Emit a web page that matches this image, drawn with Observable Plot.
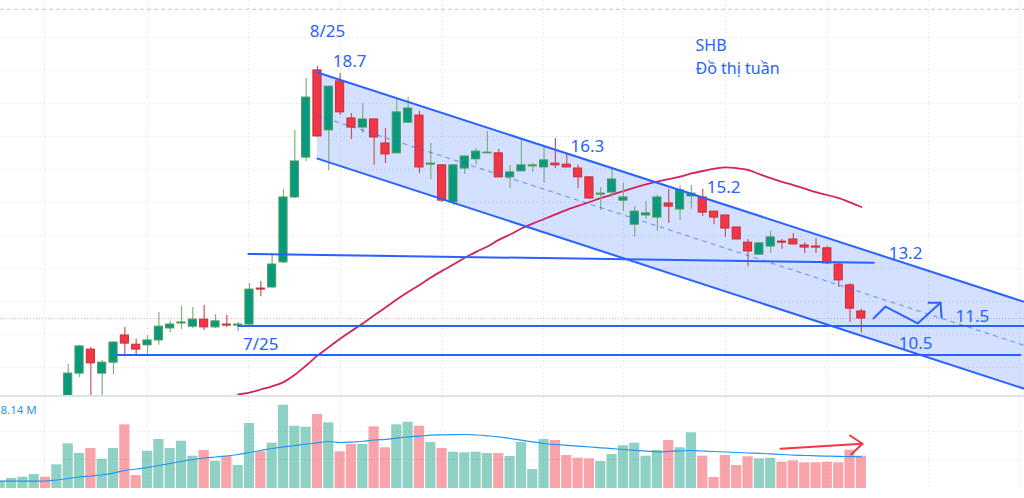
<!DOCTYPE html>
<html><head><meta charset="utf-8">
<script src="https://cdn.jsdelivr.net/npm/d3@7"></script>
<script src="https://cdn.jsdelivr.net/npm/@observablehq/plot@0.6"></script>
<style>
html,body{margin:0;padding:0;background:#fff;}
#chart{width:1024px;height:498px;overflow:hidden;position:relative;}
#sep{height:2px;background:#e0e3eb;}
svg{display:block;}
</style></head><body><div id="chart"></div>
<script>
// ---- weekly candles (index 0..70) ----
const opens = [9.15,10.05,10.73,10.05,10.36,11.13,10.87,10.85,10.99,11.33,11.47,11.38,11.58,11.36,11.44,11.41,11.44,12.46,12.49,13.20,15.04,16.17,18.64,16.94,18.33,17.28,17.02,17.25,16.57,16.29,17.16,17.36,15.97,15.95,14.90,15.86,16.12,16.29,16.29,15.61,15.78,15.92,15.89,16.00,15.97,15.86,15.61,15.12,15.18,14.95,14.27,14.53,14.47,14.87,14.70,15.07,15.04,14.64,14.53,14.19,13.76,13.42,13.65,13.79,13.85,13.68,13.65,13.60,13.14,12.55,11.81];
const closes = [10.05,10.82,10.34,10.36,10.93,10.90,10.73,10.99,11.38,11.44,11.50,11.58,11.36,11.53,11.41,11.44,12.43,12.43,13.14,15.04,16.06,17.87,16.77,18.18,17.45,17.02,17.25,16.74,16.26,17.45,17.56,15.89,16.00,14.95,15.95,16.20,16.34,16.31,15.61,15.75,15.95,15.95,16.09,15.95,15.89,15.61,15.01,15.15,15.55,15.04,14.64,14.59,15.04,14.78,15.24,15.15,14.61,14.47,14.16,13.85,13.51,13.74,13.91,13.76,13.71,13.62,13.62,13.17,12.69,11.89,11.61];
const highs = [10.31,10.85,10.79,10.42,10.96,11.36,11.02,11.13,11.78,11.53,11.95,11.92,11.98,11.72,11.70,11.50,12.60,12.66,13.40,15.27,16.94,18.41,18.75,18.20,18.55,17.42,17.70,17.27,16.99,17.87,17.87,17.48,16.57,15.97,15.97,16.22,16.43,16.91,16.40,15.95,16.68,16.00,16.51,16.71,16.26,15.95,15.63,15.32,15.86,15.44,14.78,14.93,15.10,15.27,15.38,15.38,15.27,14.64,14.53,14.19,13.85,13.74,14.08,13.85,14.02,13.76,13.88,13.65,13.17,12.60,11.87];
const lows = [8.95,9.94,9.34,9.34,10.02,10.53,10.59,10.59,10.85,11.21,11.30,11.33,11.27,11.33,11.36,11.24,11.41,12.23,12.46,13.17,15.01,16.06,16.74,15.80,17.36,16.68,16.85,15.95,16.00,16.27,17.14,15.72,15.55,14.90,14.81,15.69,15.95,16.28,15.60,15.29,15.77,15.75,15.44,15.86,15.88,15.29,14.99,14.67,15.04,14.64,13.91,14.42,14.08,14.30,14.39,14.70,14.50,14.27,13.91,13.84,13.08,13.42,13.45,13.57,13.70,13.45,13.45,13.14,12.49,11.50,11.21];
// 50-week moving average, candles 15..70
const maStart = 15;
const maValues = [9.46,9.51,9.60,9.69,9.81,10.02,10.28,10.56,10.80,11.04,11.26,11.47,11.70,11.92,12.15,12.36,12.56,12.77,12.96,13.14,13.33,13.50,13.65,13.84,13.99,14.16,14.30,14.43,14.56,14.69,14.80,14.91,15.02,15.12,15.22,15.32,15.41,15.49,15.56,15.63,15.72,15.79,15.85,15.89,15.87,15.82,15.70,15.59,15.48,15.39,15.29,15.19,15.11,15.02,14.90,14.77];
// ---- volume (index -6..70), millions ----
const volStart = -6;
const preDirs = [1,1,1,1,-1,1];
const volumes = [1.84,2.52,2.85,3.53,2.85,5.97,11.26,8.82,10.08,7.38,10.08,16.05,3.28,9.40,12.35,10.08,11.92,8.14,9.58,6.88,8.14,5.80,16.38,9.25,11.42,20.99,15.70,15.45,18.65,16.56,9.25,11.09,11.09,15.55,10.26,16.05,16.71,15.70,11.59,10.08,9.15,9.00,9.15,8.82,8.82,8.06,11.59,4.79,12.35,12.10,8.32,7.64,7.48,6.80,8.57,10.76,11.42,8.14,9.58,12.10,10.26,14.04,8.14,2.77,8.32,5.80,7.99,7.48,7.64,6.63,6.98,6.48,6.48,6.63,6.48,9.65,8.14];
const volMA = [1.84,1.84,1.84,1.84,1.89,2.14,2.52,2.90,3.15,3.40,3.91,4.54,4.91,5.29,5.80,6.30,6.80,7.31,7.69,7.94,8.19,8.57,9.07,9.58,10.08,10.51,10.84,11.21,11.52,11.84,11.59,11.70,11.90,12.22,12.40,12.70,12.98,13.20,13.43,13.51,13.58,13.61,13.48,13.28,13.03,12.60,12.17,11.77,11.34,11.09,10.89,10.68,10.46,10.26,10.05,9.83,9.63,9.42,9.25,9.35,9.48,9.58,9.45,9.32,9.20,9.07,8.95,8.85,8.74,8.57,8.39,8.32,8.24,8.16,8.09,8.04,7.99];
// ---- grid ----
const priceGrid = [19.57,18.64,17.70,16.77,15.83,14.90,13.96,13.03,12.09,11.16,10.22];
const timeGridIdx = [-2.09,7.0,15.91,24.03,33.03,41.95,49.01,58.0,67.01,75.93,83.96];
const volGrid = [7.31,14.36];
const topDashed = 20.37;
// ---- drawings ----
const channelIdx = [22, 84.4];
const channelUpper = [18.58, 12.08];
const channelLower = [16.14, 9.62];
const level132Idx = [15.9, 71.1], level132Price = [13.44, 13.19];
const level115Idx = [15.0, 84.4], level115Price = [11.40, 11.40];
const level105Idx = [4.35, 84.05], level105Price = [10.58, 10.58];
const zigIdx = [71.07, 72.13, 74.97, 76.99], zigPrice = [11.61, 11.95, 11.47, 12.06];
const zigHeadIdx = [75.93, 76.99, 77.08], zigHeadPrice = [12.06, 12.06, 11.64];
const volArrowIdx = [62.87, 70.1], volArrowVal = [10.0, 11.27];
const volHeadIdx = [69.0, 70.1, 69.1], volHeadVal = [13.36, 11.27, 8.57];
const labelTexts = ["8/25","18.7","16.3","15.2","13.2","11.5","10.5","7/25"];
const labelIdx = [22.88,24.83,45.83,57.84,73.9,79.8,74.8,17.0];
const labelPrice = [19.74,18.89,16.48,15.32,13.45,11.67,10.90,10.87];
const titleTexts = ["SHB","Đồ thị tuần"];
const titleIdx = [55.37,55.37];
const titlePrice = [19.33,18.68];
const volLabel = "8.14 M";

const xDomain = [-5.975, 84.4];
const GREEN = "#089981", RED = "#f23645", BLUE = "#2962ff";
const FONT = "Noto Sans, Open Sans, sans-serif";

const candles = opens.map((o,k)=>({i:k, o, c:closes[k], h:highs[k], l:lows[k], up: closes[k] >= o}));
const ma = maValues.map((v,k)=>({i:maStart+k, v}));
const vbars = volumes.map((v,k)=>{const i = volStart+k; const up = i<0 ? preDirs[k]>0 : candles[i].up; return {i, v, up};});
const vma = volMA.map((v,k)=>({i:volStart+k, v}));
const channel = channelIdx.map((x,k)=>({x, u:channelUpper[k], l:channelLower[k], m:(channelUpper[k]+channelLower[k])/2}));
const pts = (xs, ys) => xs.map((x,k)=>({x, y:ys[k]}));
const labels = labelTexts.map((t,k)=>({t, x:labelIdx[k], y:labelPrice[k]}));
const titles = titleTexts.map((t,k)=>({t, x:titleIdx[k], y:titlePrice[k]}));

const pricePlot = Plot.plot({
  width: 1024, height: 395, margin: 0,
  style: {fontFamily: FONT, background: "#fff"},
  x: {domain: xDomain, axis: null},
  y: {domain: [9.43, 20.62], axis: null},
  marks: [
    Plot.ruleY(priceGrid, {stroke: "#e3e5ea", strokeDasharray: "1.5,2.5"}),
    Plot.ruleX(timeGridIdx, {stroke: "#e3e5ea", strokeDasharray: "1.5,2.5"}),
    Plot.ruleY([topDashed], {stroke: "#c3c6ce", strokeDasharray: "4,3"}),
    Plot.ruleY([closes[closes.length-1]], {stroke: "#f7a9ae", strokeDasharray: "1,2"}),
    Plot.areaY(channel, {x: "x", y1: "l", y2: "u", fill: BLUE, fillOpacity: 0.2}),
    Plot.line(ma, {x: "i", y: "v", stroke: "#d2225f", strokeWidth: 1.8, curve: "monotone-x", clip: true}),
    Plot.ruleX(candles, {x: "i", y1: "l", y2: "h", stroke: d => d.up ? "#7fb07c" : "#c9545e", strokeWidth: 1.2, clip: true}),
    Plot.rect(candles, {x1: d => d.i - 0.36, x2: d => d.i + 0.36, y1: "o", y2: "c", fill: d => d.up ? GREEN : RED, stroke: d => d.up ? "#4f9a55" : "#c8303c", strokeWidth: 1, clip: true}),
    Plot.line(channel, {x: "x", y: "u", stroke: BLUE, strokeWidth: 2}),
    Plot.line(channel, {x: "x", y: "l", stroke: BLUE, strokeWidth: 2}),
    Plot.line(channel, {x: "x", y: "m", stroke: BLUE, strokeWidth: 1, strokeOpacity: 0.7, strokeDasharray: "4,5"}),
    Plot.line(pts(level132Idx, level132Price), {x: "x", y: "y", stroke: BLUE, strokeWidth: 2}),
    Plot.line(pts(level115Idx, level115Price), {x: "x", y: "y", stroke: BLUE, strokeWidth: 2}),
    Plot.line(pts(level105Idx, level105Price), {x: "x", y: "y", stroke: BLUE, strokeWidth: 2}),
    Plot.line(pts(zigIdx, zigPrice), {x: "x", y: "y", stroke: BLUE, strokeWidth: 2}),
    Plot.line(pts(zigHeadIdx, zigHeadPrice), {x: "x", y: "y", stroke: BLUE, strokeWidth: 2}),
    Plot.text(labels, {x: "x", y: "y", text: "t", fill: BLUE, fontSize: 17, fontFamily: FONT}),
    Plot.text(titles, {x: "x", y: "y", text: "t", fill: BLUE, fontSize: 16, fontFamily: FONT, textAnchor: "start"})
  ]
});

const volPlot = Plot.plot({
  width: 1024, height: 101, marginTop: 0, marginBottom: 10, marginLeft: 0, marginRight: 0,
  style: {fontFamily: FONT, background: "#fff"},
  x: {domain: xDomain, axis: null},
  y: {domain: [0, 22.93], axis: null},
  marks: [
    Plot.ruleY(volGrid, {stroke: "#e3e5ea", strokeDasharray: "1.5,2.5"}),
    Plot.ruleX(timeGridIdx, {stroke: "#e3e5ea", strokeDasharray: "1.5,2.5"}),
    Plot.rectY(vbars, {x1: d => d.i - 0.45, x2: d => d.i + 0.45, y1: 0, y2: "v", fill: d => d.up ? GREEN : RED, fillOpacity: 0.45, clip: true}),
    Plot.line(vma, {x: "i", y: "v", stroke: "#2196f3", strokeWidth: 1.2, curve: "monotone-x", clip: true}),
    Plot.line(pts(volArrowIdx, volArrowVal), {x: "x", y: "y", stroke: RED, strokeWidth: 2}),
    Plot.line(pts(volHeadIdx, volHeadVal), {x: "x", y: "y", stroke: RED, strokeWidth: 2}),
    Plot.text([volLabel], {x: xDomain[0], y: 19.66, text: d => d, textAnchor: "start", fill: "#2196f3", fontSize: 11.5, fontFamily: FONT})
  ]
});

const root = document.getElementById("chart");
root.appendChild(pricePlot);
const sep = document.createElement("div"); sep.id = "sep"; root.appendChild(sep);
root.appendChild(volPlot);
</script></body></html>
